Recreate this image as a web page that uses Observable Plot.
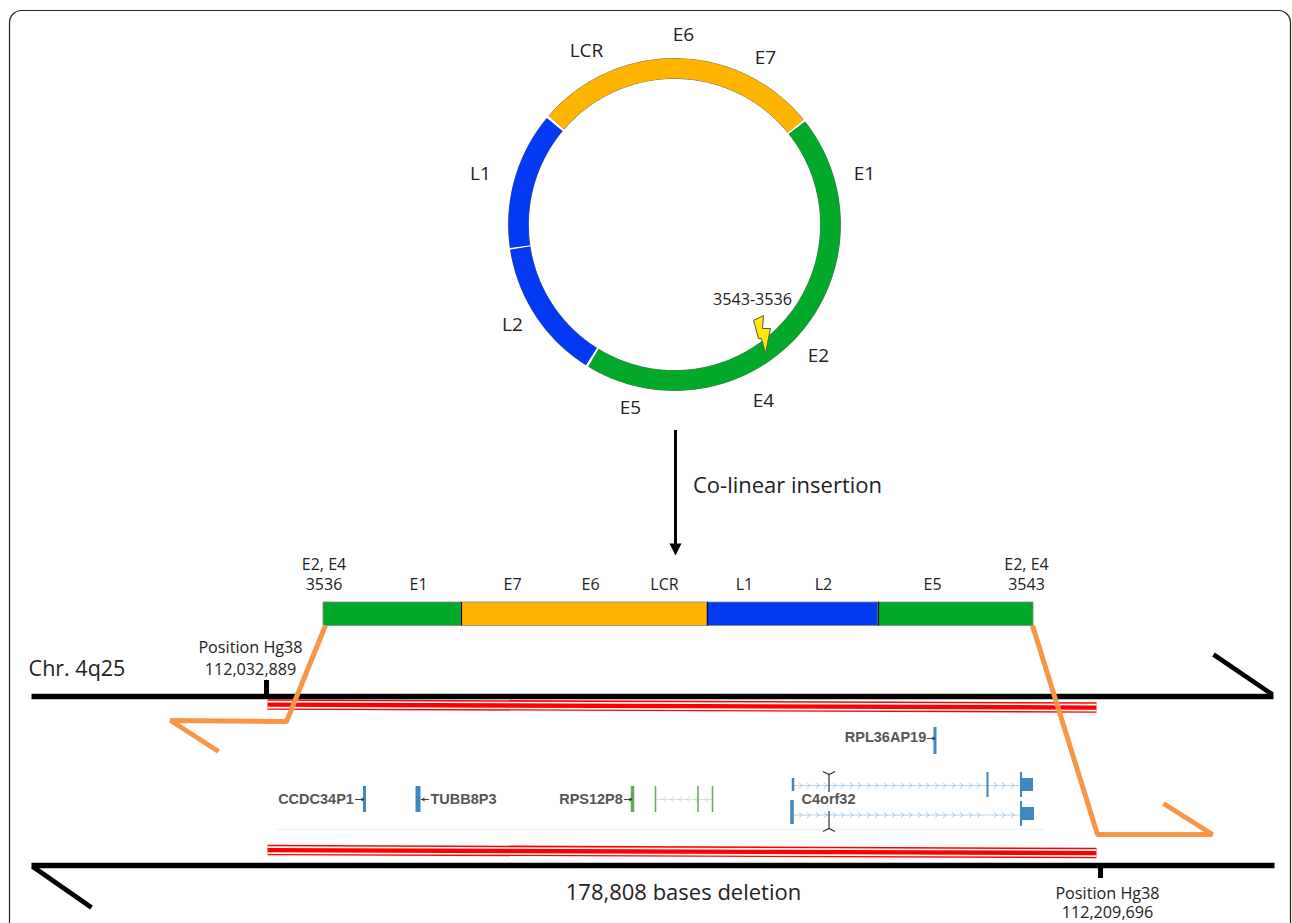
<!DOCTYPE html>
<html><head><meta charset="utf-8">
<script src="https://cdn.jsdelivr.net/npm/d3@7"></script>
<script src="https://cdn.jsdelivr.net/npm/@observablehq/plot@0.6"></script>
<style>html,body{margin:0;padding:0;background:#fff;overflow:hidden}svg{display:block}</style>
</head><body><div id="chart"></div>
<script>
const ringCentre = {x: 674, y: 224};
const ringRadius = 156;
const ringSegments = [
  {from: 261.9, to: 309.8, color: "#0339f2"},
  {from: 212.2, to: 261.3, color: "#0339f2"},
  {from: 51.7, to: 211.3, color: "#02a82a"},
  {from: -49.2, to: 50.9, color: "#ffb400"}
];
const ringLabels = [
  ["LCR", 586, 50], ["E6", 683, 34], ["E7", 765, 57], ["E1", 864, 173], ["L1", 480, 173],
  ["L2", 512, 324], ["E2", 818, 355], ["E4", 763, 400], ["E5", 630, 407]
];
const barSegments = [
  {x1: 323, x2: 461, color: "#02a82a"}, {x1: 461, x2: 707, color: "#ffb400"},
  {x1: 707, x2: 878, color: "#0339f2"}, {x1: 878, x2: 1033, color: "#02a82a"}
];
const barDividers = [461, 707, 878];
const barLabels = [
  ["E2, E4", 323.5, 564], ["3536", 323.5, 584], ["E1", 418, 584], ["E7", 512, 584], ["E6", 590, 584],
  ["LCR", 664, 584], ["L1", 744, 584], ["L2", 823, 584], ["E5", 932, 584], ["E2, E4", 1026, 564], ["3543", 1026, 584]
];
const noteLabels = [
  ["Position Hg38", 250, 647], ["112,032,889", 250, 669], ["Position Hg38", 1107, 893], ["112,209,696", 1107, 912.5]
];
const orangeLeft = [[325,625],[286,721],[170,720],[218,751]];
const orangeRight = [[1032,625],[1097,834],[1212,834],[1163,803]];
const chromLines = [[31,696,1273,696],[31,865,1274,865]];
const chromBarbs = [[1213,654,1272,694],[32,866,91,907]];
const ticks = [[266.5,680,695],[1100.5,868,878]];
const redBands = [
  {x1: 267, y1: 704, x2: 1096, y2: 707},
  {x1: 267, y1: 849.5, x2: 1096, y2: 852.5}
];
const genes = [
  ["CCDC34P1", 315.5, 799], ["TUBB8P3", 463, 799], ["RPS12P8", 590.5, 799], ["RPL36AP19", 885, 737], ["C4orf32", 828, 799]
];
const geneBlue = [[364.5,786,812,3],[418,786,812,5],[935,727,754,3],[793,778,791,2.5],[987.5,772,797,2],[1021,772,797,2],[792,800,824,3.5],[1021,801,826,2]];
const geneGreen = [[632.5,786,812,3.5],[655.5,786,812,1.5],[698,786,812,1.5],[712.5,786,812,1.5]];
const exonBoxes = [[1021,1033,778,791],[1021,1034,807,820]];
const rightArrows = [[355,364,799],[624,632,799],[927,935,738]];
const leftArrows = [[429,421,799]];
const intronBlue = [[794,1021,785],[793,1021,814.5]];
const intronGreen = [[656,712,799]];
const chevronX = [800,808,817,825,834,842,851,859,868,876,885,893,902,910,919,927,936,944,953,961,970,978,995,1003,1012];
const chevronY = [785,814.5];
const chevronsGreen = [664,672,680,688,696,706];
const markers = [[828.5,774,792,-1],[828.5,811,828,1]];
const lightning = [[753,320],[763,315],[762,328],[770,328],[765,353],[761,338],[758,338]];
const faintRule = [[277,1044,829]];
const coArrow = {x: 675, y1: 430, y2: 545, head: [[669,543],[681,543],[675,555]]};

const sym = (pts) => ({draw(c, s){pts.forEach((p,i)=> i ? c.lineTo(p[0],p[1]) : c.moveTo(p[0],p[1]));}});
const chev = sym([[-1.6,-2.8],[1.6,0],[-1.6,2.8]]);
const chevL = sym([[1.6,-2.8],[-1.6,0],[1.6,2.8]]);
const headR = {draw(c){c.moveTo(0,0);c.lineTo(-3,-2);c.lineTo(-3,2);c.closePath();}};
const headL = {draw(c){c.moveTo(0,0);c.lineTo(3,-2);c.lineTo(3,2);c.closePath();}};
const arcPoints = s => d3.range(s.from, s.to + .01, (s.to - s.from) / 80).map(a => [
  ringCentre.x + ringRadius * Math.sin(a * Math.PI / 180),
  ringCentre.y - ringRadius * Math.cos(a * Math.PI / 180)
]);
const F = "'Open Sans', sans-serif";
const G = "'Liberation Sans', Arial, sans-serif";
const txt = (d, size, extra={}) => Plot.text(d, {x: d => d[1], y: d => d[2], text: d => d[0], fontSize: size, fontFamily: F, fill: "#222", ...extra});
const vbars = (d, color) => Plot.rect(d, {x1: v => v[0]-v[3]/2, x2: v => v[0]+v[3]/2, y1: v => v[1], y2: v => v[2], fill: color});
const poly = (d, o) => Plot.line(d, {x: p => p[0], y: p => p[1], strokeLinecap: "butt", strokeLinejoin: "miter", ...o});
const seg = (d, o) => Plot.link(d, {x1: v => v[0], y1: v => v[1], x2: v => v[2], y2: v => v[3], strokeLinecap: "butt", ...o});

const plot = Plot.plot({
  width: 1292, height: 923, margin: 0,
  x: {domain: [0, 1292], range: [0, 1292], axis: null},
  y: {domain: [0, 923], range: [0, 923], axis: null},
  style: {background: "#fff"},
  marks: [
    Plot.rect([0], {x1: 9.5, x2: 1290.5, y1: 10.5, y2: 960, rx: 12, stroke: "#222", strokeWidth: 1.2, fill: "#fff"}),
    ...ringSegments.map(s => poly(arcPoints(s), {stroke: "#666", strokeWidth: 20.8})),
    ...ringSegments.map(s => poly(arcPoints(s), {stroke: s.color, strokeWidth: 20})),
    poly(lightning, {fill: "#ffe800", stroke: "#555", strokeWidth: 1, curve: "linear-closed"}),
    txt(ringLabels, 19),
    txt([["3543-3536", 752, 299]], 16.2),
    Plot.ruleX([coArrow.x], {y1: coArrow.y1, y2: coArrow.y2, stroke: "#000", strokeWidth: 3}),
    poly(coArrow.head, {fill: "#000", stroke: "none", curve: "linear-closed"}),
    txt([["Co-linear insertion", 787, 485]], 22),
    txt(barLabels, 16),
    Plot.rect(barSegments, {x1: "x1", x2: "x2", y1: 602, y2: 625.5, fill: "color", stroke: "#888", strokeWidth: 0.8}),
    Plot.ruleX(barDividers, {y1: 602, y2: 625.5, stroke: "#111", strokeWidth: 1.2}),
    Plot.rect(ticks, {x1: t => t[0]-2.5, x2: t => t[0]+2.5, y1: t => t[1], y2: t => t[2], fill: "#000"}),
    seg(chromLines, {stroke: "#000", strokeWidth: 5.7}),
    seg(chromBarbs, {stroke: "#000", strokeWidth: 4.6}),
    txt([["Chr. 4q25", 76.5, 669]], 21.5),
    txt(noteLabels, 16.2),
    Plot.link(redBands, {x1: "x1", y1: "y1", x2: "x2", y2: "y2", stroke: "#f00", strokeWidth: 10.5, strokeLinecap: "butt"}),
    Plot.link(redBands, {x1: "x1", y1: d => d.y1 - 2.9, x2: "x2", y2: d => d.y2 - 2.9, stroke: "#fff", strokeWidth: 1.6, strokeLinecap: "butt"}),
    Plot.link(redBands, {x1: "x1", y1: d => d.y1 + 3.1, x2: "x2", y2: d => d.y2 + 3.1, stroke: "#fff", strokeWidth: 1.6, strokeLinecap: "butt"}),
    poly(orangeLeft, {stroke: "#f79646", strokeWidth: 5}),
    poly(orangeRight, {stroke: "#f79646", strokeWidth: 5}),
    Plot.ruleY(faintRule, {x1: d => d[0], x2: d => d[1], y: d => d[2], stroke: "#f0f5fa", strokeWidth: 2}),
    Plot.ruleY(intronBlue, {x1: d => d[0], x2: d => d[1], y: d => d[2], stroke: "#bcd6e8", strokeWidth: 1.2}),
    Plot.ruleY(intronGreen, {x1: d => d[0], x2: d => d[1], y: d => d[2], stroke: "#d4e8d0", strokeWidth: 1.2}),
    Plot.dot(d3.cross(chevronX, chevronY), {x: d => d[0], y: d => d[1], symbol: chev, r: 3, stroke: "#9fc4de", strokeWidth: 0.9, fill: "none"}),
    Plot.dot(chevronsGreen, {x: d => d, y: 799, symbol: chevL, r: 3, stroke: "#bcdab6", strokeWidth: 0.9, fill: "none"}),
    vbars(geneBlue, "#3f88c0"),
    vbars(geneGreen, "#63ab54"),
    Plot.rect(exonBoxes, {x1: d => d[0], x2: d => d[1], y1: d => d[2], y2: d => d[3], fill: "#3f88c0"}),
    Plot.ruleY([...rightArrows, ...leftArrows], {x1: d => d[0], x2: d => d[1], y: d => d[2], stroke: "#444", strokeWidth: 1}),
    Plot.dot(rightArrows, {x: d => d[1], y: d => d[2], symbol: headR, r: 3, fill: "#333", stroke: "none"}),
    Plot.dot(leftArrows, {x: d => d[1], y: d => d[2], symbol: headL, r: 3, fill: "#333", stroke: "none"}),
    Plot.ruleX(markers, {x: d => d[0], y1: d => d[1], y2: d => d[2], stroke: "#333", strokeWidth: 1.2}),
    Plot.dot(markers.filter(m => m[3] < 0), {x: d => d[0], y: d => d[1], symbol: sym([[-6,-3],[0,0],[6,-3]]), r: 3, stroke: "#333", strokeWidth: 1.2, fill: "none"}),
    Plot.dot(markers.filter(m => m[3] > 0), {x: d => d[0], y: d => d[2], symbol: sym([[-6,3],[0,0],[6,3]]), r: 3, stroke: "#333", strokeWidth: 1.2, fill: "none"}),
    txt(genes, 14.5, {fontFamily: G, fontWeight: 700, fill: "#555"}),
    txt([["178,808 bases deletion", 683, 892]], 22)
  ]
});
document.getElementById("chart").append(plot);
</script></body></html>
